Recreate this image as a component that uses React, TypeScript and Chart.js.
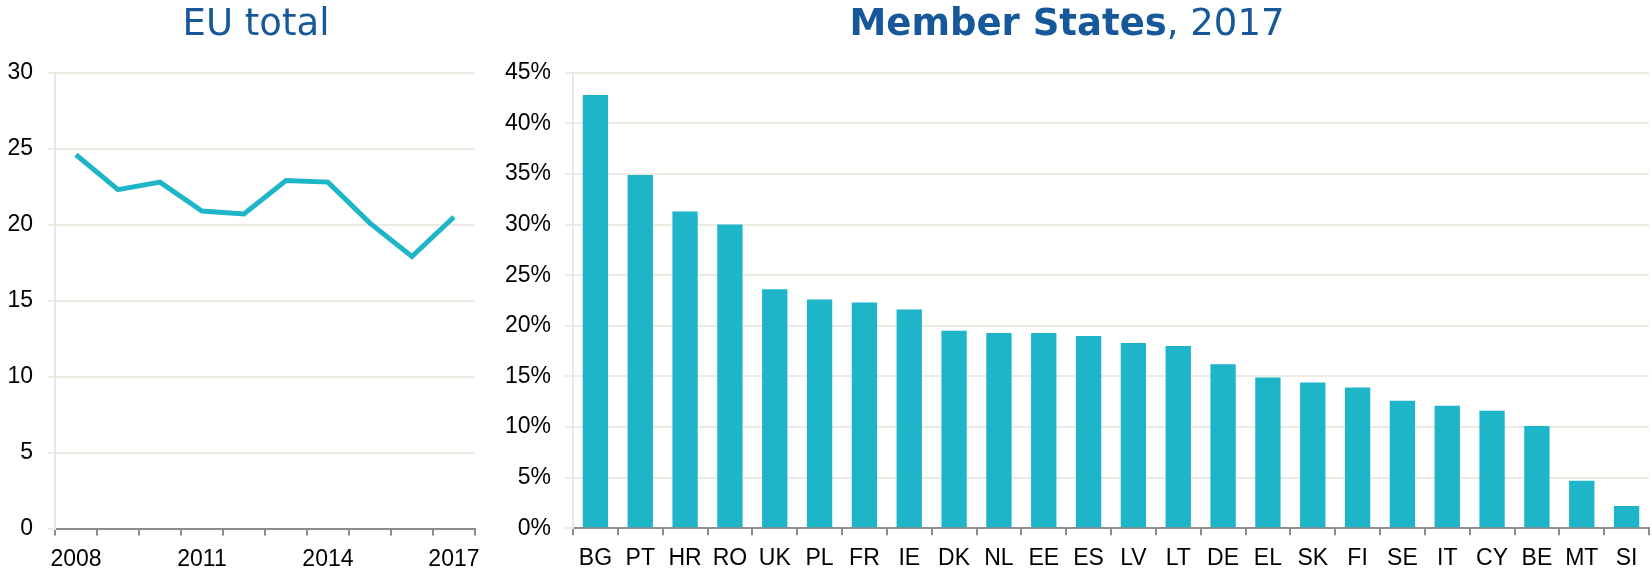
import React, { useEffect, useRef } from "react";
import { Chart, registerables } from "chart.js";

Chart.register(...registerables);

const years = ["2008", "2009", "2010", "2011", "2012", "2013", "2014", "2015", "2016", "2017"];
const euTotal = [24.6, 22.3, 22.8, 20.9, 20.7, 22.9, 22.8, 20.1, 17.9, 20.5];
const leftTicks = [0, 5, 10, 15, 20, 25, 30];

const countries = ["BG", "PT", "HR", "RO", "UK", "PL", "FR", "IE", "DK", "NL", "EE", "ES", "LV", "LT", "DE", "EL", "SK", "FI", "SE", "IT", "CY", "BE", "MT", "SI"];
const shares2017 = [42.8, 34.9, 31.3, 30.0, 23.6, 22.6, 22.3, 21.6, 19.5, 19.3, 19.3, 19.0, 18.3, 18.0, 16.2, 14.9, 14.4, 13.9, 12.6, 12.1, 11.6, 10.1, 4.7, 2.2];
const rightTicks = [0, 5, 10, 15, 20, 25, 30, 35, 40, 45];

const TEAL = "#1EB5C8";
const GRID = "#EEEBE2";
const AXIS = "#8C8C8C";
const TITLE = "#17589A";
const tickFont = { family: "'Liberation Sans', Arial, sans-serif", size: 23 };

export default function App() {
  const leftRef = useRef<HTMLCanvasElement>(null);
  const rightRef = useRef<HTMLCanvasElement>(null);

  useEffect(() => {
    const left = new Chart(leftRef.current!, {
      type: "line",
      data: {
        labels: years,
        datasets: [
          {
            data: euTotal,
            borderColor: TEAL,
            borderWidth: 5,
            pointRadius: 0,
            tension: 0,
            fill: false,
          },
        ],
      },
      options: {
        animation: false,
        responsive: false,
        maintainAspectRatio: false,
        layout: { padding: { top: 72.7, right: 10, left: 0, bottom: 0 } },
        plugins: { legend: { display: false }, tooltip: { enabled: false } },
        scales: {
          x: {
            type: "category",
            offset: true,
            afterFit: (s: any) => {
              s.height = 48.5;
            },
            grid: {
              offset: true,
              drawOnChartArea: false,
              drawTicks: true,
              tickLength: 7,
              color: AXIS,
              lineWidth: 2,
            },
            border: { display: true, color: AXIS, width: 2 },
            ticks: {
              autoSkip: false,
              maxRotation: 0,
              padding: 10,
              color: "#000",
              font: tickFont,
              callback: (_v: any, i: number) => (i % 3 === 0 ? years[i] : ""),
            },
          },
          y: {
            min: 0,
            max: 30,
            afterFit: (s: any) => {
              s.width = 55;
            },
            afterBuildTicks: (s: any) => {
              s.ticks = leftTicks.map((v) => ({ value: v }));
            },
            grid: { color: GRID, lineWidth: 2, tickLength: 7, drawTicks: true },
            border: { display: true, color: "#E8E8E8", width: 2 },
            ticks: { padding: 15, color: "#000", font: tickFont },
          },
        },
      },
    });

    const right = new Chart(rightRef.current!, {
      type: "bar",
      data: {
        labels: countries,
        datasets: [
          {
            data: shares2017,
            backgroundColor: TEAL,
            borderWidth: 0,
            barPercentage: 0.565,
            categoryPercentage: 1,
          },
        ],
      },
      options: {
        animation: false,
        responsive: false,
        maintainAspectRatio: false,
        layout: { padding: { top: 72.7, right: 3, left: 0, bottom: 0 } },
        plugins: { legend: { display: false }, tooltip: { enabled: false } },
        scales: {
          x: {
            afterFit: (s: any) => {
              s.height = 48.7;
            },
            grid: {
              offset: true,
              drawOnChartArea: false,
              drawTicks: true,
              tickLength: 7,
              color: AXIS,
              lineWidth: 2,
            },
            border: { display: true, color: AXIS, width: 2 },
            ticks: {
              autoSkip: false,
              maxRotation: 0,
              padding: 10,
              color: "#000",
              font: tickFont,
            },
          },
          y: {
            min: 0,
            max: 45,
            afterFit: (s: any) => {
              s.width = 83;
            },
            afterBuildTicks: (s: any) => {
              s.ticks = rightTicks.map((v) => ({ value: v }));
            },
            grid: { color: GRID, lineWidth: 2, tickLength: 8, drawTicks: true },
            border: { display: true, color: "#E8E8E8", width: 2 },
            ticks: {
              padding: 14,
              color: "#000",
              font: tickFont,
              callback: (v: any) => v + "%",
            },
          },
        },
      },
    });

    return () => {
      left.destroy();
      right.destroy();
    };
  }, []);

  const titleStyle: React.CSSProperties = {
    position: "absolute",
    top: 4,
    fontFamily: "'DejaVu Sans', Verdana, sans-serif",
    fontSize: 37,
    lineHeight: "37px",
    color: TITLE,
    whiteSpace: "nowrap",
    transform: "translateX(-50%)",
  };

  return (
    <div style={{ position: "absolute", left: 0, top: 0, width: 1652, height: 577, background: "#fff", overflow: "hidden" }}>
      <canvas ref={leftRef} width={490} height={577} style={{ position: "absolute", left: 0, top: 0, width: 490, height: 577 }} />
      <canvas ref={rightRef} width={1162} height={577} style={{ position: "absolute", left: 490, top: 0, width: 1162, height: 577 }} />
      <div style={{ ...titleStyle, left: 256 }}>EU total</div>
      <div style={{ ...titleStyle, left: 1067 }}>
        <span style={{ fontWeight: "bold" }}>Member States</span>, 2017
      </div>
    </div>
  );
}
